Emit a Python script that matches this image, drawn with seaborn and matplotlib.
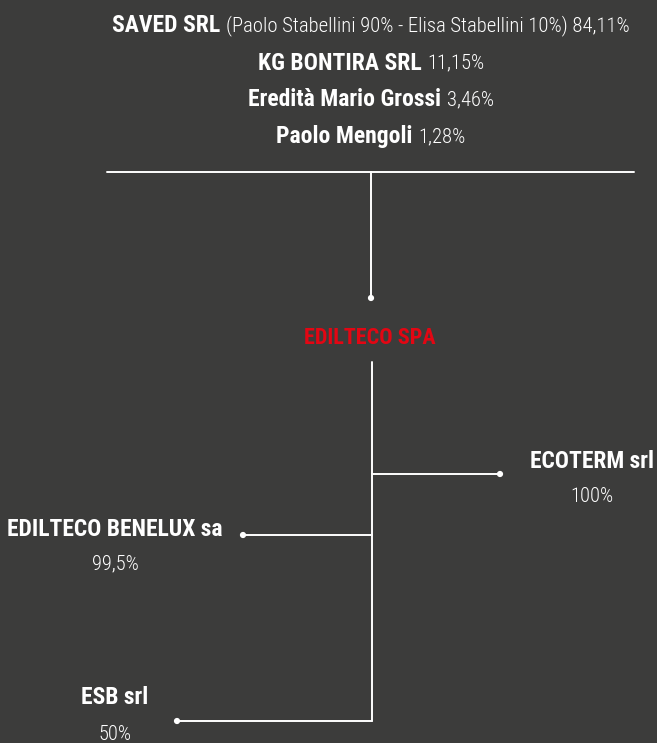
import matplotlib
matplotlib.use("Agg")
import matplotlib.pyplot as plt
import seaborn as sns
import pandas as pd

# shareholders (bold name, regular share)
holders = ["SAVED SRL", "KG BONTIRA SRL", "Eredità Mario Grossi", "Paolo Mengoli"]
holder_shares = ["(Paolo Stabellini 90% - Elisa Stabellini 10%) 84,11%", "11,15%", "3,46%", "1,28%"]

parent = "EDILTECO SPA"

# subsidiaries
subs = ["ECOTERM srl", "EDILTECO BENELUX sa", "ESB srl"]
sub_shares = ["100%", "99,5%", "50%"]

BG = "#3c3c3b"
RED = "#e30613"
FONT = ["Roboto Condensed", "Liberation Sans Narrow", "Roboto", "DejaVu Sans"]

sns.set_theme(style="white")
plt.rcParams["font.family"] = FONT

fig = plt.figure(figsize=(6.57, 7.43), dpi=100, facecolor=BG)
ax = fig.add_axes([0, 0, 1, 1])
ax.set_facecolor(BG)
ax.set_xlim(0, 657)
ax.set_ylim(743, 0)
ax.axis("off")

lw = 1.4
# top bar and trunk
ax.plot([107, 634], [172, 172], color="white", lw=lw)
ax.plot([371, 371], [172, 298], color="white", lw=lw)
# lower trunk
ax.plot([372, 372], [362, 721], color="white", lw=lw)

# branches: y of branch, x where it ends
branch_y = [474, 535, 721]
branch_x = [500, 243, 177]
for by, bx in zip(branch_y, branch_x):
    ax.plot([372, bx], [by, by], color="white", lw=lw)

dots = pd.DataFrame({"x": [371] + branch_x, "y": [298] + branch_y})
sns.scatterplot(data=dots, x="x", y="y", ax=ax, color="white", s=20,
                edgecolor="none", legend=False, zorder=3)

fig.canvas.draw()
r = fig.canvas.get_renderer()

# shareholder lines: bold + light, centered, one common size
tops = [26, 63, 100, 137]
widths = [516, 212, 259, 192]
cx = 371
rows = []
ks = []
for name, share, ty, tw in zip(holders, holder_shares, tops, widths):
    t1 = ax.text(0, ty, name + " ", fontsize=16, fontweight="bold", color="white",
                 va="center", ha="left")
    t2 = ax.text(0, ty, share, fontsize=14, fontweight="light", color="white",
                 va="center", ha="left")
    w = t1.get_window_extent(r).width + t2.get_window_extent(r).width
    ks.append(tw / w)
    rows.append((t1, t2))
k = sum(ks) / len(ks)
for t1, t2 in rows:
    t1.set_fontsize(16 * k)
    t2.set_fontsize(14 * k)
    w1 = t1.get_window_extent(r).width
    w2 = t2.get_window_extent(r).width
    x0 = cx - (w1 + w2) / 2
    t1.set_x(x0)
    t2.set_x(x0 + w1)

tp = ax.text(370, 338, parent, fontsize=19, fontweight="bold", color=RED,
             ha="center", va="center")
tp.set_fontsize(19 * 131 / tp.get_window_extent(r).width)

# subsidiary labels
name_pos = [(592, 462), (115, 529), (115, 698)]
share_pos = [(592, 497), (115, 564), (115, 735)]
name_w = [124, 212, 68]
names = []
ks = []
for name, (nx, ny), nw in zip(subs, name_pos, name_w):
    tn = ax.text(nx, ny, name, fontsize=16, fontweight="bold", color="white",
                 ha="center", va="center")
    ks.append(nw / tn.get_window_extent(r).width)
    names.append(tn)
k2 = sum(ks) / len(ks)
for tn in names:
    tn.set_fontsize(16 * k2)
for share, (sx, sy) in zip(sub_shares, share_pos):
    ax.text(sx, sy, share, fontsize=14 * k2, fontweight="light", color="white",
            ha="center", va="center")

fig.savefig("out.png", dpi=100, facecolor=BG)
